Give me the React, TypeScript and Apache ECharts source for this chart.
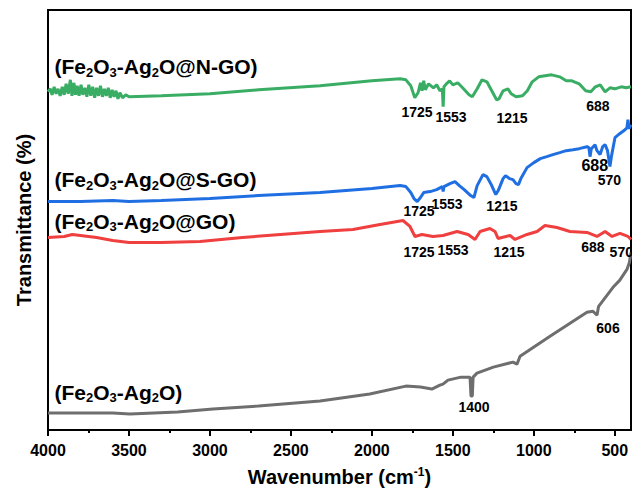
import React, { useEffect, useRef } from "react";
import * as echarts from "echarts";

const FONT = "'Liberation Sans', Arial, Helvetica, sans-serif";

const xMajorTicks = [4000, 3500, 3000, 2500, 2000, 1500, 1000, 500];
const xMinorTicks = [3750, 3250, 2750, 2250, 1750, 1250, 750];

// [wavenumber (cm-1), transmittance (arb. offset units)]
const seriesNGO: number[][] = [
  [4000, 339], [3985, 342], [3975, 336], [3962, 344], [3950, 337], [3938, 342], [3925, 335], [3912, 344],
  [3900, 336], [3888, 347], [3875, 337], [3862, 351], [3852, 335], [3840, 348], [3830, 336], [3820, 345],
  [3808, 335], [3796, 346], [3785, 336], [3772, 343], [3760, 334], [3748, 346], [3736, 335], [3724, 344],
  [3712, 333], [3700, 343], [3688, 335], [3676, 345], [3664, 334], [3652, 342], [3640, 335], [3628, 343],
  [3616, 333], [3604, 341], [3592, 334], [3580, 340], [3568, 332], [3556, 338], [3540, 333], [3520, 336],
  [3500, 334], [3300, 335], [3000, 337], [2700, 341], [2320, 345], [2000, 350], [1826, 352], [1790, 351],
  [1760, 345], [1735, 333], [1715, 338], [1700, 348], [1690, 340], [1680, 350], [1670, 341], [1650, 347],
  [1620, 343], [1600, 346], [1580, 340], [1565, 342], [1560, 324], [1555, 344], [1540, 347], [1520, 350],
  [1500, 346], [1470, 348], [1440, 343], [1400, 336], [1380, 334], [1350, 342], [1320, 351], [1290, 349],
  [1260, 340], [1230, 331], [1215, 332], [1190, 340], [1160, 342], [1140, 337], [1110, 334], [1070, 335],
  [1040, 340], [1010, 349], [970, 354], [930, 355], [890, 356], [840, 354], [800, 350], [765, 350],
  [720, 347], [680, 340], [648, 339], [620, 344], [590, 346], [560, 339], [530, 343], [500, 342],
  [460, 344], [430, 343], [400, 344],
];

const seriesSGO: number[][] = [
  [4000, 229], [3800, 229], [3600, 230], [3500, 229], [3300, 230], [3000, 232], [2700, 235], [2320, 238],
  [2000, 242], [1826, 245], [1790, 244], [1760, 238], [1740, 232], [1720, 229], [1700, 233], [1680, 238],
  [1640, 239], [1600, 241], [1565, 244], [1560, 239], [1555, 244], [1518, 247], [1487, 249], [1460, 245],
  [1430, 241], [1390, 235], [1370, 233], [1350, 245], [1314, 256], [1290, 254], [1260, 245], [1235, 236],
  [1220, 240], [1190, 252], [1175, 255], [1150, 252], [1129, 251], [1110, 247], [1095, 246], [1080, 252],
  [1042, 263], [1000, 268], [960, 272], [920, 274], [882, 276], [840, 278], [800, 280], [758, 281],
  [720, 282], [672, 284], [660, 283], [653, 274], [645, 282], [622, 286], [610, 280], [591, 276],
  [575, 284], [560, 286], [545, 280], [530, 264], [520, 275], [499, 293], [470, 297], [437, 301],
  [425, 303], [419, 311], [412, 302], [400, 306],
];

const seriesGO: number[][] = [
  [4000, 193], [3900, 194], [3850, 196], [3800, 195], [3700, 193], [3600, 190], [3500, 188], [3300, 188],
  [3061, 189], [2800, 193], [2320, 199], [2117, 201], [1950, 206], [1808, 210], [1765, 204], [1734, 194],
  [1691, 196], [1623, 194], [1561, 195], [1474, 199], [1406, 196], [1363, 191], [1332, 199], [1271, 202],
  [1240, 199], [1221, 192], [1147, 195], [1116, 191], [1042, 196], [980, 199], [931, 205], [857, 203],
  [777, 199], [672, 198], [610, 194], [560, 199], [517, 194], [468, 197], [419, 194], [400, 191],
];

const seriesBase: number[][] = [
  [4000, 17], [3800, 17], [3600, 17], [3494, 16], [3200, 18], [2981, 21], [2700, 24], [2320, 29],
  [2013, 36], [1790, 44], [1700, 43], [1630, 41], [1580, 45], [1561, 46], [1530, 50], [1450, 53],
  [1394, 53], [1388, 34], [1380, 34], [1375, 53], [1351, 57], [1250, 63], [1129, 68], [1104, 66],
  [1085, 74], [900, 94], [672, 118], [635, 119], [610, 115], [600, 124], [511, 143], [470, 150],
  [425, 161], [410, 168], [400, 178],
];

// peak annotations: [wavenumber, value, text, fontSize]
const peaksNGO: [number, number, string, number][] = [
  [1721, 319, "1725", 14], [1511, 314, "1553", 14], [1135, 313, "1215", 14], [604, 325, "688", 14],
];
const peaksSGO: [number, number, string, number][] = [
  [1709, 220, "1725", 14], [1536, 227, "1553", 14], [1197, 225, "1215", 14], [624, 265, "688", 16], [534, 251, "570", 14],
];
const peaksGO: [number, number, string, number][] = [
  [1709, 178, "1725", 14], [1499, 180, "1553", 14], [1153, 178, "1215", 14], [635, 183, "688", 14], [460, 178, "570", 14],
];
const peaksBase: [number, number, string, number][] = [[1369, 23, "1400", 14], [542, 102, "606", 14]];

// series name labels: [wavenumber at left edge, value at vertical centre, rich text]
const nameLabels: [number, number, string][] = [
  [3960, 364, "{n|(Fe}{s|2}{n|O}{s|3}{n|-Ag}{s|2}{n|O@N-GO)}"],
  [3960, 251, "{n|(Fe}{s|2}{n|O}{s|3}{n|-Ag}{s|2}{n|O@S-GO)}"],
  [3960, 209, "{n|(Fe}{s|2}{n|O}{s|3}{n|-Ag}{s|2}{n|O@GO)}"],
  [3960, 38, "{n|(Fe}{s|2}{n|O}{s|3}{n|-Ag}{s|2}{n|O)}"],
];

const COLORS = { ngo: "#3aad64", sgo: "#1f6fe3", go: "#ef3f3f", base: "#6e6e6e" };

const richName = {
  n: { fontSize: 21, fontWeight: "bold", fontFamily: FONT, fill: "#000", color: "#000", lineHeight: 24 },
  s: { fontSize: 13, fontWeight: "bold", fontFamily: FONT, fill: "#000", color: "#000", lineHeight: 13, padding: [11, 0, 0, 0] },
};

function lineSeries(name: string, data: number[][], color: string) {
  return {
    type: "line",
    name,
    data,
    showSymbol: false,
    symbol: "none",
    lineStyle: { color, width: 3 },
    itemStyle: { color },
    clip: true,
  };
}

export default function App() {
  const ref = useRef<HTMLDivElement>(null);
  useEffect(() => {
    if (!ref.current) return;
    const chart = echarts.init(ref.current, undefined, { renderer: "svg" });
    chart.setOption({
      animation: false,
      backgroundColor: "#fff",
      grid: {
        left: 48, right: 1, top: 10, bottom: 61,
        show: true, borderColor: "#000", borderWidth: 2,
      },
      xAxis: [
        {
          type: "value", min: 400, max: 4000, inverse: true, position: "bottom",
          name: "{a|Wavenumber (cm}{sup|-1}{a|)}",
          nameLocation: "middle", nameGap: 36,
          nameTextStyle: {
            rich: {
              a: { fontSize: 20, fontWeight: "bold", fontFamily: FONT, color: "#000", lineHeight: 22 },
              sup: { fontSize: 12, fontWeight: "bold", fontFamily: FONT, color: "#000", lineHeight: 12, verticalAlign: "top" },
            },
          },
          axisLine: { show: true, lineStyle: { color: "#000", width: 2 } },
          axisTick: { show: true, inside: false, length: 6, lineStyle: { color: "#000", width: 2 }, customValues: xMajorTicks },
          axisLabel: {
            show: true, margin: 12, fontSize: 16, fontWeight: "bold", fontFamily: FONT, color: "#000",
            customValues: xMajorTicks, formatter: (v: number) => String(v),
          },
          splitLine: { show: false },
        },
        {
          type: "value", min: 400, max: 4000, inverse: true, position: "bottom", offset: 0,
          axisLine: { show: false },
          axisTick: { show: true, inside: false, length: 3, lineStyle: { color: "#000", width: 2 }, customValues: xMinorTicks },
          axisLabel: { show: false },
          splitLine: { show: false },
        },
      ],
      yAxis: {
        type: "value", min: 0, max: 421,
        name: "Transmittance (%)", nameLocation: "middle", nameGap: 14,
        nameTextStyle: { fontSize: 20, fontWeight: "bold", fontFamily: FONT, color: "#000" },
        axisLine: { show: true, lineStyle: { color: "#000", width: 2 } },
        axisTick: { show: false },
        axisLabel: { show: false },
        splitLine: { show: false },
      },
      series: [
        lineSeries("base", seriesBase, COLORS.base),
        lineSeries("GO", seriesGO, COLORS.go),
        lineSeries("S-GO", seriesSGO, COLORS.sgo),
        lineSeries("N-GO", seriesNGO, COLORS.ngo),
      ],
    });

    const toPx = (x: number, y: number) =>
      chart.convertToPixel({ xAxisIndex: 0, yAxisIndex: 0 }, [x, y]) as number[];

    const graphics: any[] = [];
    [peaksNGO, peaksSGO, peaksGO, peaksBase].forEach((list) => {
      list.forEach(([x, y, t, fs]) => {
        const [px, py] = toPx(x, y);
        graphics.push({
          type: "text", x: px, y: py, z: 100, silent: true,
          style: {
            text: t, align: "center", verticalAlign: "middle",
            fontSize: fs, fontWeight: "bold", fontFamily: FONT, fill: "#000",
          },
        });
      });
    });
    nameLabels.forEach(([x, y, rich]) => {
      const [px, py] = toPx(x, y);
      graphics.push({
        type: "text", x: px, y: py, z: 100, silent: true,
        style: {
          text: rich, align: "left", verticalAlign: "middle",
          fontSize: 21, fontWeight: "bold", fontFamily: FONT, fill: "#000",
          rich: richName,
        },
      });
    });
    chart.setOption({ graphic: graphics });

    return () => chart.dispose();
  }, []);
  return <div ref={ref} style={{ position: "fixed", left: 0, top: 0, width: 632, height: 492 }} />;
}
